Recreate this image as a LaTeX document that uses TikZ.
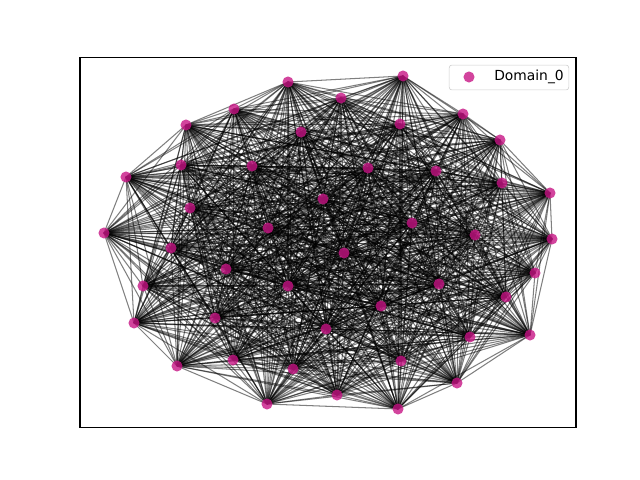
\documentclass[tikz,border=0pt]{standalone}
\usepackage{fontspec}
\setmainfont{DejaVu Sans}
\definecolor{violetred}{RGB}{199,21,133}
\tikzset{
  vertex/.style={circle,fill=violetred,fill opacity=0.8,draw=none,inner sep=0pt,minimum size=8pt},
  link/.style={black,opacity=0.5,line width=0.75pt},
}
\begin{document}
\begin{tikzpicture}[x=0.01in,y=-0.01in]
  \useasboundingbox (0,0) rectangle (640,480);
  % Vertex positions (pixel grid of the plot)
  \foreach \x/\y [count=\i] in {403/76,288/82,341/98,234/109,463/114,186/125,
      400/124,301/132,500/140,181/165,252/166,368/168,436/171,126/177,
      502/183,550/193,323/199,190/208,412/223,268/228,104/233,475/235,
      552/239,171/248,344/253,226/269,535/273,143/286,288/286,439/284,
      506/297,381/306,215/318,134/323,326/329,530/335,470/337,233/360,
      401/361,177/366,293/369,457/383,337/395,267/404,398/409}
    \coordinate (n\i) at (\x,\y);
  % Every pair of vertices is linked
  \foreach \i in {1,...,44}{
    \pgfmathtruncatemacro\k{\i+1}
    \foreach \j in {\k,...,45}
      \draw[link] (n\i) -- (n\j);
  }
  % Vertices on top
  \foreach \i in {1,...,45}
    \node[vertex] (v\i) at (n\i) {};
  % Axes frame
  \draw[black,line width=0.8pt] (80,57.6) rectangle (576,427.2);
  % Legend
  \node[draw=black!20,fill=white,fill opacity=0.8,text opacity=1,rounded corners=2pt,
        minimum width=86.4pt,minimum height=18pt,inner sep=0pt] (legend) at (509,77.5) {};
  \node[vertex] (mark) at (469,77) {};
  \node[anchor=west,inner sep=0pt,font=\fontsize{10}{12}\selectfont] (label) at (494,77) {Domain\_0};
\end{tikzpicture}
\end{document}
